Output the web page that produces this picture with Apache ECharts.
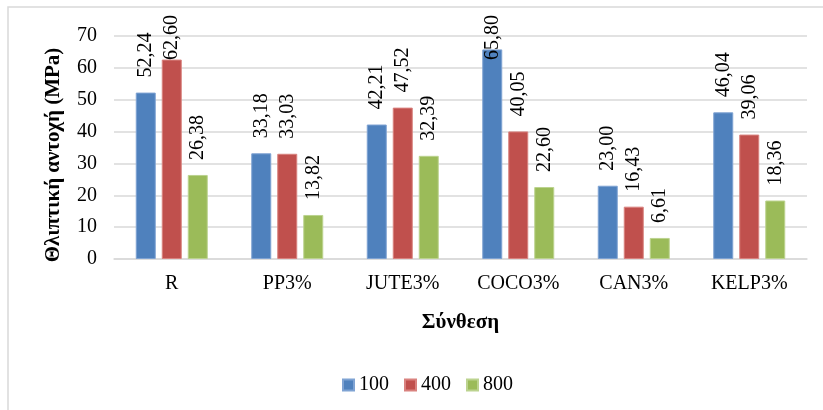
<!DOCTYPE html>
<html>
<head>
<meta charset="utf-8">
<script src="https://cdn.jsdelivr.net/npm/echarts@6/dist/echarts.min.js"></script>
<style>
  html, body { margin: 0; padding: 0; background: #ffffff; }
  #chart { width: 823px; height: 410px; }
</style>
</head>
<body>
<div id="chart"></div>
<script>
// Compressive strength by mix and temperature
const categories = ['R', 'PP3%', 'JUTE3%', 'COCO3%', 'CAN3%', 'KELP3%'];
const seriesNames = ['100', '400', '800'];
const values100 = [52.24, 33.18, 42.21, 65.80, 23.00, 46.04];
const values400 = [62.60, 33.03, 47.52, 40.05, 16.43, 39.06];
const values800 = [26.38, 13.82, 32.39, 22.60, 6.61, 18.36];
const yTicks = { min: 0, max: 70, interval: 10 };
const yTitle = 'Θλιπτική αντοχή (MPa)';
const xTitle = 'Σύνθεση';

const colors = ['#4F81BD', '#C0504D', '#9BBB59'];
const borderColors = ['#7FA3D3', '#D9827F', '#BCD38F'];
const FONT = '"Liberation Serif", "Times New Roman", serif';

const chart = echarts.init(document.getElementById('chart'), null, { renderer: 'canvas' });

// keep rotated value labels inside the top of the chart
const LABEL_TOP = 15;
function clampLabel(params) {
  const r = params.labelRect;
  if (r && r.y < LABEL_TOP) {
    return { y: LABEL_TOP + r.height };
  }
  return {};
}

function fmt(v) {
  return v.toFixed(2).replace('.', ',');
}

const allValues = [values100, values400, values800];

const series = seriesNames.map(function (name, i) {
  return {
    name: name,
    type: 'bar',
    data: allValues[i],
    barWidth: 20,
    barGap: '30%',
    itemStyle: { color: colors[i], borderColor: borderColors[i], borderWidth: 1 },
    label: {
      show: true,
      position: 'top',
      rotate: 90,
      align: 'left',
      verticalAlign: 'middle',
      distance: 15,
      fontFamily: FONT,
      fontSize: 20,
      color: '#000000',
      formatter: function (p) { return fmt(p.value); }
    },
    labelLayout: clampLabel
  };
});

chart.setOption({
  animation: false,
  color: colors,
  textStyle: { fontFamily: FONT },
  graphic: [{
    type: 'rect',
    shape: { x: 8, y: 7, width: 830, height: 420 },
    style: { fill: 'none', stroke: '#d9d9d9', lineWidth: 1.5 },
    silent: true,
    z: -1
  }, {
    // vertical axis title
    type: 'text',
    x: 54,
    y: 155,
    rotation: Math.PI / 2,
    style: {
      text: yTitle,
      font: 'bold 21px ' + FONT,
      fill: '#000000',
      align: 'center',
      verticalAlign: 'middle'
    },
    silent: true
  }],
  grid: { left: 114, right: 16, top: 36, bottom: 151, containLabel: false },
  legend: {
    data: seriesNames,
    left: 337,
    top: 370,
    itemWidth: 11,
    itemHeight: 11,
    itemGap: 15,
    icon: 'rect',
    textStyle: { fontFamily: FONT, fontSize: 20, color: '#000000' }
  },
  xAxis: {
    type: 'category',
    data: categories,
    name: xTitle,
    nameLocation: 'middle',
    nameGap: 53,
    nameTextStyle: { fontFamily: FONT, fontSize: 21, fontWeight: 'bold', color: '#000000' },
    axisLine: { show: true, lineStyle: { color: '#d9d9d9', width: 1.5 } },
    axisTick: { show: false },
    axisLabel: { fontFamily: FONT, fontSize: 20, color: '#000000', margin: 15 }
  },
  yAxis: {
    type: 'value',
    min: yTicks.min,
    max: yTicks.max,
    interval: yTicks.interval,
    axisLine: { show: false },
    axisTick: { show: false },
    axisLabel: { fontFamily: FONT, fontSize: 20, color: '#000000', margin: 17 },
    splitLine: { lineStyle: { color: '#d9d9d9', width: 1.5 } }
  },
  series: series
});
</script>
</body>
</html>
